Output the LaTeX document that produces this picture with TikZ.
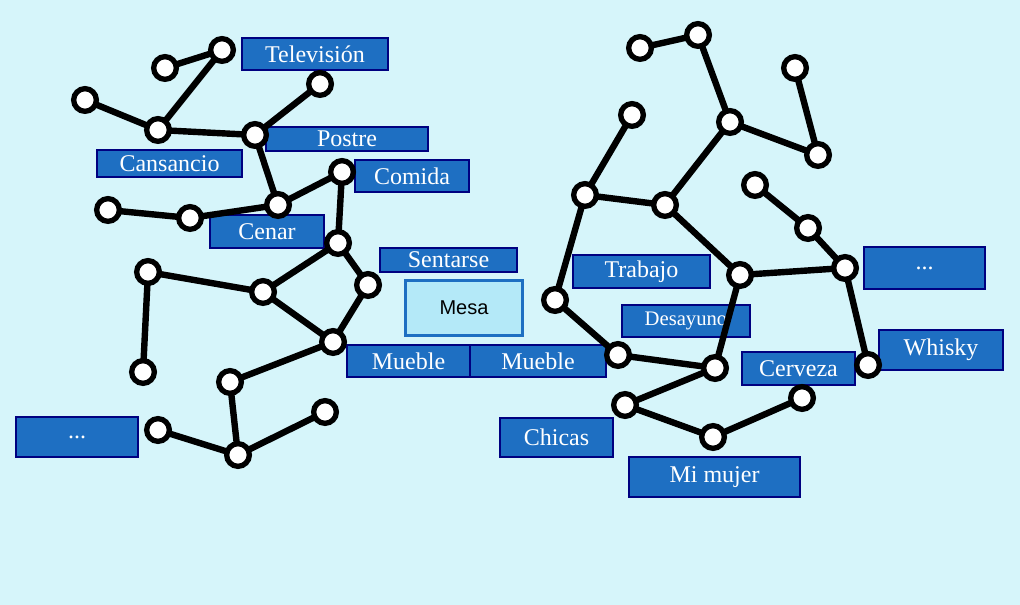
\documentclass[tikz,border=0pt]{standalone}
\usepackage{fontspec}
\setmainfont{Liberation Serif}
\newfontfamily\mesafont{Liberation Sans}
\begin{document}
\begin{tikzpicture}[x=0.75pt,y=-0.75pt,
  dot/.style={circle,draw=black,fill=white,line width=4pt,inner sep=0pt,minimum size=17pt},
  edge/.style={line width=4.8pt,black},
  lab/.style={rectangle,draw=blue!50!black,line width=0.8pt,fill=lblue,text=white,font=\fontsize{18}{19}\selectfont,inner sep=0pt}]
\definecolor{bg}{HTML}{D6F5FA}
\definecolor{lblue}{HTML}{1E6FC2}
\definecolor{mesafill}{HTML}{B4E9F8}
\fill[bg] (0,0) rectangle (1020,605);
\useasboundingbox (0,0) rectangle (1020,605);
% labels
\newcommand{\lbl}[6]{\node[lab,minimum width={(#4-#2)*0.75pt},minimum height={(#5-#3)*0.75pt}] (#1) at ({(#2+#4)/2},{(#3+#5)/2}) {#6};}
\lbl{tv}{242}{38}{388}{70}{Televisión}
\lbl{po}{266}{127}{428}{151}{Postre}
\lbl{ca}{97}{150}{242}{177}{Cansancio}
\lbl{co}{355}{160}{469}{192}{Comida}
\lbl{ce}{210}{215}{324}{248}{Cenar}
\lbl{se}{380}{248}{517}{272}{Sentarse}
\lbl{m1}{347}{345}{470}{377}{Mueble}
\lbl{m2}{470}{345}{606}{377}{Mueble}
\lbl{d1}{16}{417}{138}{457}{...}
\lbl{tr}{573}{255}{710}{288}{Trabajo}
\lbl{de}{622}{305}{750}{337}{\fontsize{15.5}{16}\selectfont Desayuno}
\lbl{d2}{864}{247}{985}{289}{...}
\lbl{wh}{879}{330}{1003}{370}{Whisky}
\lbl{cv}{742}{352}{855}{385}{Cerveza}
\lbl{ch}{500}{418}{613}{457}{Chicas}
\lbl{mm}{629}{457}{800}{497}{Mi mujer}
\node[rectangle,draw=lblue,line width=2.5pt,fill=mesafill,minimum width=88pt,minimum height=41pt,font=\mesafont\fontsize{15}{16}\selectfont] (mesa) at (464,308) {Mesa};
\foreach \n/\x/\y in {a1/222/50,a2/165/68,a3/85/100,a4/158/130,a5/320/84,a6/255/135,a7/278/205,a8/342/172,a9/108/210,a10/190/218,a11/338/243,a12/148/272,a13/263/292,a14/368/285,a15/333/342,a16/143/372,a17/230/382,a18/158/430,a19/238/455,a20/325/412,
b1/640/48,b2/698/35,b3/730/122,b4/795/68,b5/818/155,b6/632/115,b7/585/195,b8/665/205,b9/755/185,b10/808/228,b11/845/268,b12/740/275,b13/555/300,b14/618/355,b15/715/368,b16/625/405,b17/713/437,b18/802/398,b19/868/365}
  \coordinate (\n) at (\x,\y);
\foreach \p/\q in {a1/a2,a1/a4,a3/a4,a4/a6,a6/a5,a6/a7,a7/a8,a7/a10,a9/a10,a8/a11,a11/a13,a11/a14,a13/a12,a12/a16,a13/a15,a14/a15,a15/a17,a17/a19,a18/a19,a19/a20,
b1/b2,b2/b3,b3/b5,b4/b5,b3/b8,b6/b7,b7/b8,b7/b13,b8/b12,b9/b10,b10/b11,b12/b11,b11/b19,b13/b14,b14/b15,b12/b15,b15/b16,b16/b17,b17/b18}
  \draw[edge] (\p) -- (\q);
\foreach \n in {a1,a2,a3,a4,a5,a6,a7,a8,a9,a10,a11,a12,a13,a14,a15,a16,a17,a18,a19,a20,b1,b2,b3,b4,b5,b6,b7,b8,b9,b10,b11,b12,b13,b14,b15,b16,b17,b18,b19}
  \node[dot] (n\n) at (\n) {};
\end{tikzpicture}
\end{document}
